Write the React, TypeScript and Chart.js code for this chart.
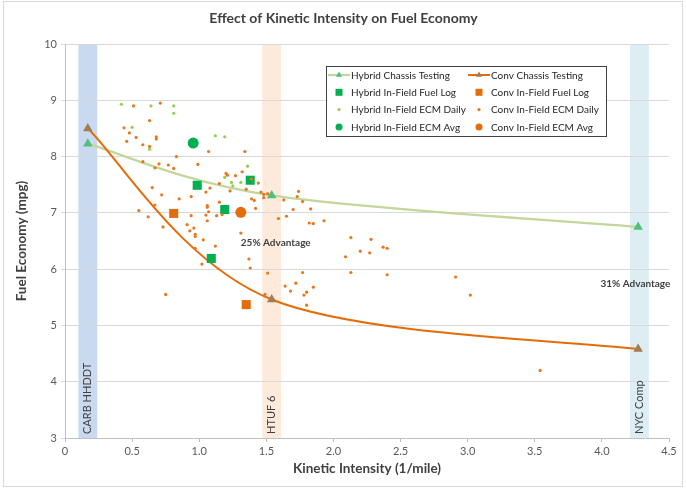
import React, { useEffect, useRef } from 'react';
import { Chart, registerables } from 'chart.js';

Chart.register(...registerables);

const FONT = 'Lato, "Open Sans", sans-serif';

// ---- Drive cycles (shaded bands) ----
const cycleNames = ['CARB HHDDT', 'HTUF 6', 'NYC Comp'];
const cycleStart = [0.1, 1.47, 4.21];
const cycleEnd = [0.24, 1.61, 4.35];

// ---- Chassis testing ----
const chassisKI = [0.17, 1.54, 4.27];
const hybridChassisMpg = [8.23, 7.31, 6.75];
const convChassisMpg = [8.5, 5.46, 4.58];

// ---- In-field fuel log ----
const hybridFuelLogKI = [0.985, 1.38, 1.19, 1.09];
const hybridFuelLogMpg = [7.49, 7.58, 7.06, 6.19];
const convFuelLogKI = [0.81, 1.35];
const convFuelLogMpg = [6.99, 5.37];

// ---- In-field ECM daily ----
const hybridDailyKI = [0.42, 0.64, 0.81, 0.81, 0.5, 0.63, 1.12, 1.19, 1.36, 1.19, 1.24, 1.25, 1.31];
const hybridDailyMpg = [8.93, 8.9, 8.9, 8.77, 8.52, 8.13, 8.37, 8.35, 7.83, 7.63, 7.54, 7.48, 7.54];

const convDailyKI = [
  0.51, 0.71, 0.63, 0.44, 0.48, 0.53, 0.46, 0.68, 0.68, 0.58, 0.63, 0.83, 0.58, 0.7, 0.67, 0.77,
  0.81, 0.99, 1.07, 0.65, 0.72, 0.85, 0.94, 1.05, 1.08, 0.55, 0.62, 0.73, 0.67, 0.94, 0.91, 0.93,
  0.96, 0.97, 0.97, 1.03, 1.06, 1.06, 1.05, 1.07, 1.06, 1.13, 1.15, 0.97, 1.12, 1.02, 0.75, 1.34,
  1.2, 1.21, 1.27, 1.32, 1.15, 1.44, 1.39, 1.23, 1.35, 1.46, 1.48, 1.51, 1.74, 1.73, 1.39, 1.17,
  1.41, 1.42, 1.48, 1.63, 1.77, 1.7, 1.83, 1.59, 1.65, 1.82, 1.85, 1.93, 1.31, 1.37, 1.38, 1.51,
  1.77, 1.64, 1.72, 1.68, 1.78, 1.85, 1.8, 1.49, 1.8, 2.13, 2.28, 2.2, 2.27, 2.37, 2.4, 2.09,
  2.13, 2.4, 2.91, 3.02, 3.54,
];
const convDailyMpg = [
  8.9, 8.95, 8.64, 8.51, 8.42, 8.34, 8.27, 8.35, 8.31, 8.21, 8.18, 8.0, 7.91, 7.87, 7.8, 7.85,
  7.79, 7.86, 8.09, 7.45, 7.32, 7.25, 7.29, 7.37, 7.44, 7.04, 6.93, 6.75, 7.14, 6.95, 6.79, 6.68,
  6.73, 6.62, 6.58, 6.52, 7.1, 7.13, 6.96, 7.02, 6.86, 6.95, 7.19, 6.37, 6.41, 6.09, 5.55, 8.09,
  7.7, 7.67, 7.66, 7.73, 7.52, 7.53, 7.6, 7.39, 7.42, 7.37, 7.33, 7.34, 7.38, 7.29, 7.25, 6.97,
  7.22, 7.08, 7.27, 7.23, 7.2, 7.06, 7.07, 6.9, 6.94, 6.82, 6.81, 6.86, 6.64, 6.18, 6.02, 5.93,
  5.94, 5.7, 5.75, 5.61, 5.54, 5.68, 5.36, 5.55, 5.59, 6.56, 6.53, 6.32, 6.29, 6.39, 6.37, 6.22,
  5.94, 5.9, 5.86, 5.54, 4.2,
];

// ---- In-field ECM average ----
const hybridAvgKI = [0.955];
const hybridAvgMpg = [8.24];
const convAvgKI = [1.31];
const convAvgMpg = [7.01];

// ---- Annotations ----
const advantageLabels = ['25% Advantage', '31% Advantage'];
const advantageKI = [1.57, 4.25];
const advantageMpg = [6.47, 5.74];

const seriesLabels = [
  'Hybrid Chassis Testing',
  'Conv Chassis Testing',
  'Hybrid In-Field Fuel Log',
  'Conv In-Field Fuel Log',
  'Hybrid In-Field ECM Daily',
  'Conv In-Field ECM Daily',
  'Hybrid In-Field ECM Avg',
  'Conv In-Field ECM Avg',
];

const C = {
  hybridLine: '#C3D69B',
  hybridTri: '#4FBF80',
  convLine: '#E46C0A',
  convTri: '#A67A52',
  greenSq: '#00B050',
  orangeSq: '#E46C0A',
  greenDot: '#92D050',
  orangeDot: '#E8761E',
  bands: ['#C9DAF0', '#FDEADB', '#DCEEF4'],
  text: '#404040',
};

const zip = (xs: number[], ys: number[]) => xs.map((x, i) => ({ x, y: ys[i] }));

// Office-style smoothing: control points at +/- (next - prev) / 6, endpoints duplicated.
const officeSmoothPlugin = {
  id: 'officeSmooth',
  beforeDatasetDraw(chart: any, args: any) {
    const ds = chart.data.datasets[args.index];
    const meta = args.meta;
    if (!ds.showLine || !meta.dataset) return;
    meta.dataset.updateControlPoints(chart.chartArea, 'x');
    const pts = meta.data;
    const n = pts.length;
    for (let i = 0; i < n; i++) {
      const p = pts[i];
      const prev = pts[Math.max(0, i - 1)];
      const next = pts[Math.min(n - 1, i + 1)];
      const dx = (next.x - prev.x) / 6;
      const dy = (next.y - prev.y) / 6;
      p.cp1x = p.x - dx;
      p.cp1y = p.y - dy;
      p.cp2x = p.x + dx;
      p.cp2y = p.y + dy;
    }
    meta.dataset._path = undefined;
  },
};

export default function App() {
  const ref = useRef<HTMLCanvasElement>(null);

  useEffect(() => {
    document.body.style.margin = '0';
    const canvas = ref.current!;

    const decorPlugin = {
      id: 'decor',
      beforeDraw(chart: any) {
        const { ctx, chartArea, scales } = chart;
        const x = scales.x;
        ctx.save();
        cycleNames.forEach((_, i) => {
          const l = x.getPixelForValue(cycleStart[i]);
          const r = x.getPixelForValue(cycleEnd[i]);
          ctx.fillStyle = C.bands[i];
          ctx.fillRect(l, chartArea.top, r - l, chartArea.bottom - chartArea.top);
        });
        ctx.restore();
      },
      beforeDatasetsDraw(chart: any) {
        const { ctx, chartArea, scales } = chart;
        const x = scales.x;
        ctx.save();
        ctx.fillStyle = C.text;
        ctx.font = `11px ${FONT}`;
        ctx.textAlign = 'left';
        ctx.textBaseline = 'middle';
        cycleNames.forEach((name, i) => {
          const cx = x.getPixelForValue((cycleStart[i] + cycleEnd[i]) / 2);
          ctx.save();
          ctx.translate(cx, chartArea.bottom - 4);
          ctx.rotate(-Math.PI / 2);
          ctx.fillText(name, 0, 0);
          ctx.restore();
        });
        ctx.restore();
      },
      afterDraw(chart: any) {
        const { ctx, chartArea, scales, width, height } = chart;
        const x = scales.x;
        const y = scales.y;
        ctx.save();
        // frame
        ctx.strokeStyle = '#D9D9D9';
        ctx.lineWidth = 1;
        ctx.strokeRect(3.5, 1.5, width - 8, height - 4);
        // title
        ctx.fillStyle = C.text;
        ctx.textAlign = 'center';
        ctx.textBaseline = 'middle';
        ctx.font = `bold 14px ${FONT}`;
        ctx.fillText('Effect of Kinetic Intensity on Fuel Economy', width / 2, 18);
        // axis titles
        ctx.font = `bold 13.5px ${FONT}`;
        ctx.fillText('Kinetic Intensity (1/mile)', (chartArea.left + chartArea.right) / 2, 469);
        ctx.save();
        ctx.translate(22, (chartArea.top + chartArea.bottom) / 2);
        ctx.rotate(-Math.PI / 2);
        ctx.fillText('Fuel Economy (mpg)', 0, 0);
        ctx.restore();
        // annotations
        ctx.font = `bold 10px ${FONT}`;
        advantageLabels.forEach((t, i) => {
          ctx.fillText(t, x.getPixelForValue(advantageKI[i]), y.getPixelForValue(advantageMpg[i]));
        });

        // legend
        const lx = chartArea.left + 261;
        const ly = chartArea.top + 22;
        const lw = 280;
        const lh = 70;
        ctx.fillStyle = '#FFFFFF';
        ctx.fillRect(lx, ly, lw, lh);
        ctx.strokeStyle = '#404040';
        ctx.lineWidth = 1;
        ctx.strokeRect(lx + 0.5, ly + 0.5, lw, lh);
        chart.data.datasets.forEach((d: any, i: number) => {
          const col = i % 2;
          const row = Math.floor(i / 2);
          const mx = lx + 13 + col * 140;
          const my = ly + 9 + row * 17.3;
          if (d.showLine) {
            ctx.strokeStyle = d.borderColor;
            ctx.lineWidth = d.borderWidth;
            ctx.beginPath();
            ctx.moveTo(mx - 11, my);
            ctx.lineTo(mx + 11, my);
            ctx.stroke();
          }
          ctx.fillStyle = d.pointBackgroundColor;
          const r = d.legendRadius;
          ctx.beginPath();
          if (d.pointStyle === 'triangle') {
            ctx.moveTo(mx, my - r);
            ctx.lineTo(mx + r * 0.866, my + r * 0.5);
            ctx.lineTo(mx - r * 0.866, my + r * 0.5);
            ctx.closePath();
          } else if (d.pointStyle === 'rect') {
            ctx.rect(mx - r, my - r, 2 * r, 2 * r);
          } else {
            ctx.arc(mx, my, r, 0, Math.PI * 2);
          }
          ctx.fill();
          ctx.fillStyle = '#262626';
          ctx.textAlign = 'left';
          ctx.font = `10px ${FONT}`;
          ctx.fillText(d.label, mx + 12, my + 0.5);
        });
        ctx.restore();
      },
    };

    const chart = new Chart(canvas, {
      type: 'scatter',
      data: {
        datasets: [
          {
            label: seriesLabels[0],
            data: zip(chassisKI, hybridChassisMpg),
            showLine: true,
            tension: 0.4,
            borderColor: C.hybridLine,
            borderWidth: 2.25,
            pointStyle: 'triangle',
            pointRadius: 5.5,
            pointBackgroundColor: C.hybridTri,
            pointBorderColor: C.hybridTri,
            pointBorderWidth: 0,
            legendRadius: 3.5,
            order: 8,
          },
          {
            label: seriesLabels[1],
            data: zip(chassisKI, convChassisMpg),
            showLine: true,
            tension: 0.4,
            borderColor: C.convLine,
            borderWidth: 2,
            pointStyle: 'triangle',
            pointRadius: 5.5,
            pointBackgroundColor: C.convTri,
            pointBorderColor: C.convTri,
            pointBorderWidth: 0,
            legendRadius: 3.5,
            order: 7,
          },
          {
            label: seriesLabels[2],
            data: zip(hybridFuelLogKI, hybridFuelLogMpg),
            pointStyle: 'rect',
            pointRadius: 6.4,
            pointBackgroundColor: C.greenSq,
            pointBorderColor: C.greenSq,
            pointBorderWidth: 0,
            legendRadius: 3.5,
            order: 6,
          },
          {
            label: seriesLabels[3],
            data: zip(convFuelLogKI, convFuelLogMpg),
            pointStyle: 'rect',
            pointRadius: 6.4,
            pointBackgroundColor: C.orangeSq,
            pointBorderColor: C.orangeSq,
            pointBorderWidth: 0,
            legendRadius: 3.5,
            order: 5,
          },
          {
            label: seriesLabels[4],
            data: zip(hybridDailyKI, hybridDailyMpg),
            pointStyle: 'circle',
            pointRadius: 1.6,
            pointBackgroundColor: C.greenDot,
            pointBorderColor: C.greenDot,
            pointBorderWidth: 0,
            legendRadius: 1.6,
            order: 4,
          },
          {
            label: seriesLabels[5],
            data: zip(convDailyKI, convDailyMpg),
            pointStyle: 'circle',
            pointRadius: 1.6,
            pointBackgroundColor: C.orangeDot,
            pointBorderColor: C.orangeDot,
            pointBorderWidth: 0,
            legendRadius: 1.6,
            order: 3,
          },
          {
            label: seriesLabels[6],
            data: zip(hybridAvgKI, hybridAvgMpg),
            pointStyle: 'circle',
            pointRadius: 5.5,
            pointBackgroundColor: C.greenSq,
            pointBorderColor: C.greenSq,
            pointBorderWidth: 0,
            legendRadius: 3.5,
            order: 2,
          },
          {
            label: seriesLabels[7],
            data: zip(convAvgKI, convAvgMpg),
            pointStyle: 'circle',
            pointRadius: 5.5,
            pointBackgroundColor: C.orangeSq,
            pointBorderColor: C.orangeSq,
            pointBorderWidth: 0,
            legendRadius: 3.5,
            order: 1,
          },
        ] as any,
      },
      options: {
        responsive: true,
        maintainAspectRatio: false,
        animation: false,
        layout: { padding: { left: 20, right: 18, top: 44, bottom: 21 } },
        plugins: {
          legend: { display: false },
          tooltip: { enabled: false },
          title: { display: false },
        },
        scales: {
          x: {
            type: 'linear',
            min: 0,
            max: 4.5,
            ticks: { stepSize: 0.5, color: '#595959', font: { family: FONT, size: 11 }, padding: 3 },
            grid: { drawOnChartArea: false, tickLength: 4, color: '#BFBFBF' },
            border: { color: '#BFBFBF' },
            afterFit: (s: any) => {
              s.height = 30;
            },
          },
          y: {
            type: 'linear',
            min: 3,
            max: 10,
            ticks: { stepSize: 1, color: '#595959', font: { family: FONT, size: 11 }, padding: 4 },
            grid: { color: '#D9D9D9', tickLength: 4 },
            border: { color: '#BFBFBF' },
            afterFit: (s: any) => {
              s.width = 45;
            },
          },
        },
      } as any,
      plugins: [officeSmoothPlugin, decorPlugin],
    });

    return () => chart.destroy();
  }, []);

  return (
    <div style={{ position: 'fixed', left: 0, top: 0, width: 687, height: 489, background: '#fff' }}>
      <canvas ref={ref} />
    </div>
  );
}
